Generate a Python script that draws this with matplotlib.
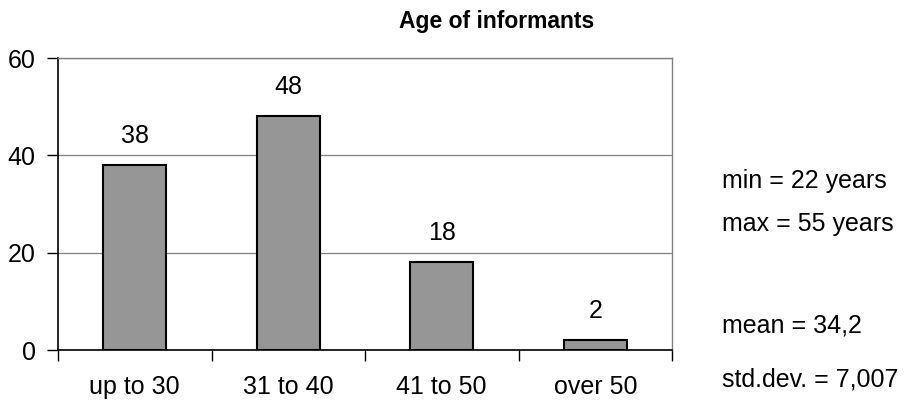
import matplotlib.pyplot as plt
import numpy as np

plt.rcParams['font.family'] = ['Liberation Sans', 'DejaVu Sans']

# age groups and counts of informants
groups = ['up to 30', '31 to 40', '41 to 50', 'over 50']
counts = [38, 48, 18, 2]
stats_lines = ['min = 22 years', 'max = 55 years', 'mean = 34,2', 'std.dev. = 7,007']
yticks = [0, 20, 40, 60]

fs = 18

fig = plt.figure(figsize=(9.13, 4.0), dpi=100)
ax = fig.add_axes([58 / 913, 1 - 350 / 400, 614 / 913, 292 / 400])

x = np.arange(len(groups))
ax.bar(x, counts, width=0.41, color='#969696', edgecolor='black', linewidth=1.5, zorder=3)

for xi, v in zip(x, counts):
    ax.annotate(str(v), (xi, v), xytext=(0, 12.5), textcoords='offset points',
                ha='center', va='bottom', fontsize=fs)

ax.set_xlim(-0.5, len(groups) - 0.5)
ax.set_ylim(0, 60)
ax.set_yticks(yticks)
ax.yaxis.grid(True, color='#808080', linewidth=0.9, zorder=0)

# category labels sit between the boundary ticks
ax.set_xticks(np.arange(len(groups) + 1) - 0.5)
ax.set_xticklabels([])
ax.set_xticks(x, minor=True)
ax.set_xticklabels(groups, minor=True, fontsize=fs)
ax.tick_params(axis='x', which='minor', length=0, pad=18)
ax.tick_params(axis='x', which='major', length=8, width=1, direction='out')
ax.tick_params(axis='y', length=8, width=1, direction='out', labelsize=fs, pad=8)

for side in ['top', 'right']:
    ax.spines[side].set_color('#808080')
    ax.spines[side].set_linewidth(1.0)
for side in ['left', 'bottom']:
    ax.spines[side].set_color('black')
    ax.spines[side].set_linewidth(1.2)

fig.text(497 / 913, 1 - 28 / 400, 'Age of informants', ha='center', va='baseline',
         fontsize=16.5, fontweight='bold')

for txt, yp in zip(stats_lines, [188, 231, 333, 386]):
    fig.text(722 / 913, 1 - yp / 400, txt, ha='left', va='baseline', fontsize=fs)

fig.savefig('out.png', dpi=100)
